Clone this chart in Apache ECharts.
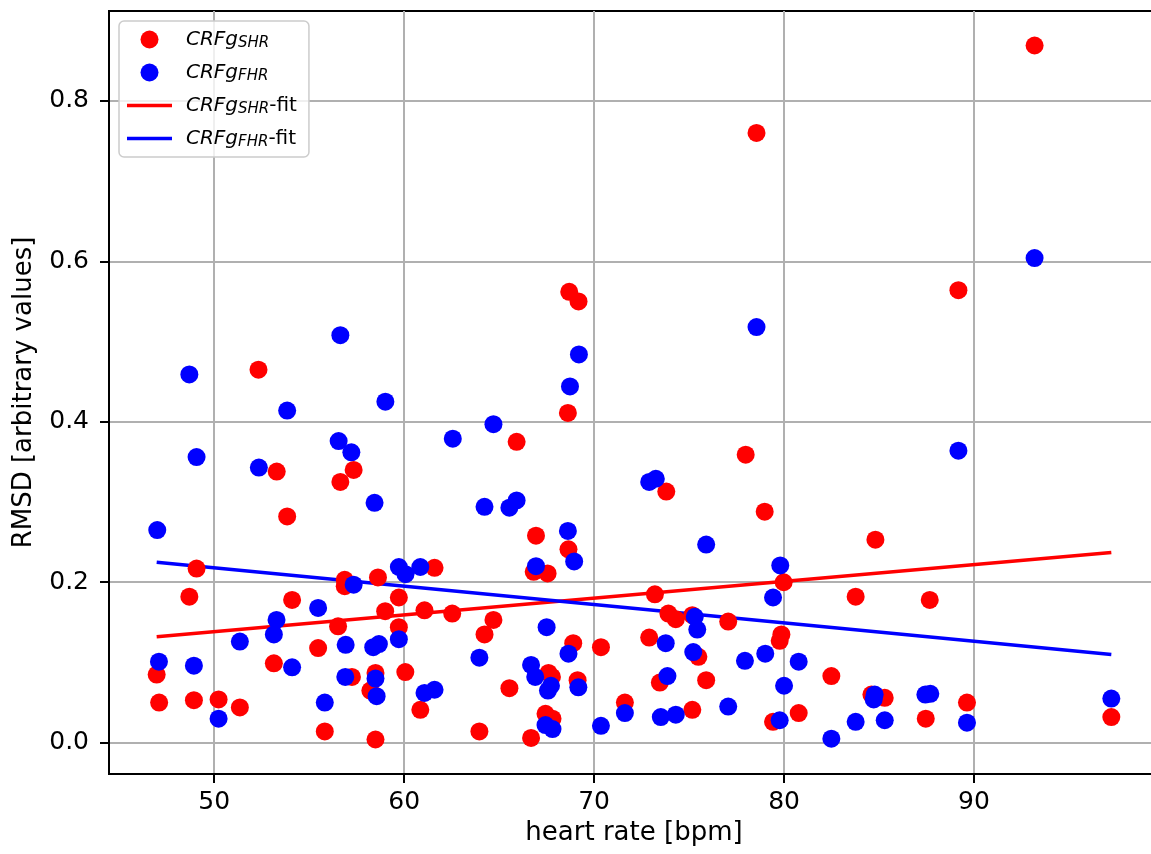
<!DOCTYPE html>
<html>
<head>
    <meta charset="utf-8">
    <title>RMSD vs heart rate</title>
    <script src="https://cdn.jsdelivr.net/npm/echarts@6.0.0/dist/echarts.min.js"></script>
    <style>
        html, body { margin: 0; padding: 0; background: #fff; }
        #chart { width: 1151px; height: 854px; }
    </style>
</head>
<body>
<div id="chart"></div>
<script>
    // CRFg_SHR points: [heart rate, RMSD]
    var shrPoints = [
        [46.97,0.085],[47.10,0.050],[48.69,0.182],[48.93,0.053],[49.07,0.217],[50.23,0.054],
        [51.35,0.044],[52.33,0.465],[53.14,0.099],[53.29,0.338],[53.84,0.282],[54.10,0.178],
        [55.47,0.118],[55.82,0.014],[56.52,0.145],[56.64,0.325],[56.87,0.203],[56.87,0.195],
        [57.25,0.082],[57.34,0.340],[58.22,0.065],[58.49,0.087],[58.49,0.004],[58.62,0.206],
        [59.00,0.164],[59.72,0.181],[59.72,0.144],[60.06,0.088],[60.85,0.041],[61.07,0.165],
        [61.60,0.218],[62.53,0.161],[63.96,0.014],[64.23,0.135],[64.70,0.153],[65.54,0.068],
        [65.92,0.375],[66.68,0.006],[66.82,0.213],[66.94,0.258],[67.44,0.036],[67.55,0.211],
        [67.60,0.087],[67.81,0.030],[67.78,0.082],[68.62,0.411],[68.65,0.241],[68.69,0.562],
        [68.90,0.124],[69.13,0.078],[69.18,0.550],[70.36,0.119],[71.62,0.050],[72.90,0.131],
        [73.20,0.185],[73.46,0.075],[73.80,0.313],[73.91,0.161],[74.30,0.154],[75.17,0.159],
        [75.17,0.041],[75.49,0.107],[75.90,0.078],[77.06,0.151],[77.98,0.359],[78.55,0.760],
        [78.98,0.288],[79.42,0.026],[79.77,0.127],[79.86,0.135],[79.98,0.200],[80.77,0.037],
        [82.49,0.083],[83.77,0.182],[84.60,0.060],[84.81,0.253],[85.30,0.056],[87.46,0.030],
        [87.67,0.178],[89.18,0.564],[89.63,0.050],[93.19,0.869],[97.23,0.032]
    ];

    // CRFg_FHR points: [heart rate, RMSD]
    var fhrPoints = [
        [47.00,0.265],[47.09,0.101],[48.69,0.459],[48.93,0.096],[49.07,0.356],[50.23,0.030],
        [51.35,0.126],[52.35,0.343],[53.14,0.135],[53.28,0.153],[53.84,0.414],[54.10,0.094],
        [55.47,0.168],[55.82,0.050],[56.55,0.376],[56.64,0.508],[56.90,0.082],[56.92,0.122],
        [57.22,0.362],[57.34,0.197],[58.37,0.119],[58.44,0.299],[58.49,0.080],[58.55,0.058],
        [58.67,0.123],[59.01,0.425],[59.72,0.219],[59.72,0.129],[60.07,0.210],[60.85,0.219],
        [61.07,0.062],[61.60,0.066],[62.56,0.379],[63.96,0.106],[64.23,0.294],[64.70,0.397],
        [65.54,0.293],[65.92,0.302],[66.68,0.097],[66.90,0.082],[66.94,0.220],[67.44,0.022],
        [67.50,0.144],[67.57,0.065],[67.73,0.071],[67.81,0.017],[68.62,0.264],[68.65,0.111],
        [68.73,0.444],[68.95,0.226],[69.17,0.069],[69.20,0.484],[70.36,0.021],[71.62,0.037],
        [72.90,0.325],[73.25,0.329],[73.51,0.032],[73.77,0.124],[73.86,0.083],[74.30,0.035],
        [75.22,0.113],[75.30,0.157],[75.43,0.141],[75.90,0.247],[77.06,0.045],[77.94,0.102],
        [78.55,0.518],[79.01,0.111],[79.42,0.181],[79.77,0.028],[79.80,0.221],[80.00,0.071],
        [80.77,0.101],[82.49,0.005],[83.77,0.026],[84.72,0.054],[84.77,0.060],[85.30,0.028],
        [87.44,0.060],[87.70,0.061],[89.18,0.364],[89.63,0.025],[93.19,0.604],[97.23,0.055]
    ];

    // linear fits, ends read at the extreme heart rates
    var fitX = [46.97, 97.23];
    var shrFit = [0.132, 0.237];
    var fhrFit = [0.225, 0.110];

    var xTicks = [50, 60, 70, 80, 90];
    var yTicks = [0.0, 0.2, 0.4, 0.6, 0.8];

    var seriesNames = ['CRFg_SHR', 'CRFg_FHR', 'CRFg_SHR-fit', 'CRFg_FHR-fit'];

    var FONT = 'DejaVu Sans';
    var RED = '#ff0000';
    var BLUE = '#0000ff';
    // plain bar for the fit entries of the legend (box 45 x 18, bar in the middle)
    var LINE_ICON = 'path://M0,0 L0,0 M0,7.25 L45,7.25 L45,10.75 L0,10.75 Z M45,18 L45,18';

    function fitData(ys) {
        return fitX.map(function (x, i) { return [x, ys[i]]; });
    }

    var chart = echarts.init(document.getElementById('chart'), null, {renderer: 'canvas'});

    var option = {
        animation: false,
        backgroundColor: '#fff',
        grid: {
            left: 109, top: 11, right: -8, bottom: 80,
            show: true, borderColor: '#000', borderWidth: 2,
            containLabel: false, outerBoundsMode: 'none'
        },
        legend: {
            orient: 'vertical',
            left: 119, top: 21,
            padding: [7, 12, 7, 8],
            itemWidth: 45, itemHeight: 18, itemGap: 10,
            backgroundColor: 'rgba(255,255,255,0.8)',
            borderColor: '#cccccc', borderWidth: 1.5, borderRadius: 5,
            data: [
                {name: seriesNames[0], icon: 'circle'},
                {name: seriesNames[1], icon: 'circle'},
                {name: seriesNames[2], icon: LINE_ICON},
                {name: seriesNames[3], icon: LINE_ICON}
            ],
            formatter: function (name) {
                var parts = name.split('_');
                var sub = parts[1];
                var tail = '';
                if (sub.indexOf('-fit') > -1) { sub = sub.replace('-fit', ''); tail = '{c|-fit}'; }
                return '{a|' + parts[0] + '}{b|' + sub + '}' + tail;
            },
            textStyle: {
                fontFamily: FONT, color: '#000',
                rich: {
                    a: {fontFamily: FONT, fontStyle: 'italic', fontSize: 20, lineHeight: 22, padding: [0, 0, 0, 9], color: '#000'},
                    b: {fontFamily: FONT, fontStyle: 'italic', fontSize: 15, lineHeight: 15, padding: [8, 0, 0, 0], color: '#000'},
                    c: {fontFamily: FONT, fontSize: 20, lineHeight: 22, color: '#000'}
                }
            }
        },
        xAxis: {
            type: 'value',
            min: 44.46, max: 99.74,
            name: 'heart rate [bpm]',
            nameLocation: 'middle', nameGap: 42,
            nameTextStyle: {fontFamily: FONT, fontSize: 26, color: '#000'},
            axisLine: {onZero: false, lineStyle: {color: '#000', width: 2}},
            axisTick: {show: true, length: 9, lineStyle: {color: '#000', width: 2}, customValues: xTicks},
            axisLabel: {fontFamily: FONT, fontSize: 25, color: '#000', margin: 16, customValues: xTicks},
            splitLine: {show: true, lineStyle: {color: '#b0b0b0', width: 2}}
        },
        yAxis: {
            type: 'value',
            min: -0.039, max: 0.912,
            name: 'RMSD [arbitrary values]',
            nameLocation: 'middle', nameGap: 72,
            nameTextStyle: {fontFamily: FONT, fontSize: 26, color: '#000'},
            axisLine: {onZero: false, lineStyle: {color: '#000', width: 2}},
            axisTick: {show: true, length: 9, lineStyle: {color: '#000', width: 2}, customValues: yTicks},
            axisLabel: {
                fontFamily: FONT, fontSize: 25, color: '#000', margin: 20, customValues: yTicks,
                formatter: function (v) { return v.toFixed(1); }
            },
            splitLine: {show: true, lineStyle: {color: '#b0b0b0', width: 2}}
        },
        series: [
            {
                name: seriesNames[0], type: 'scatter', data: shrPoints,
                symbol: 'circle', symbolSize: 18, itemStyle: {color: RED, opacity: 1}, z: 3
            },
            {
                name: seriesNames[1], type: 'scatter', data: fhrPoints,
                symbol: 'circle', symbolSize: 18, itemStyle: {color: BLUE, opacity: 1}, z: 3
            },
            {
                name: seriesNames[2], type: 'line', data: fitData(shrFit),
                symbol: 'none', color: RED, lineStyle: {color: RED, width: 3.5}, z: 2
            },
            {
                name: seriesNames[3], type: 'line', data: fitData(fhrFit),
                symbol: 'none', color: BLUE, lineStyle: {color: BLUE, width: 3.5}, z: 2
            }
        ]
    };

    chart.setOption(option);

    window.onresize = function () {
        chart.resize();
    };
</script>
</body>
</html>
